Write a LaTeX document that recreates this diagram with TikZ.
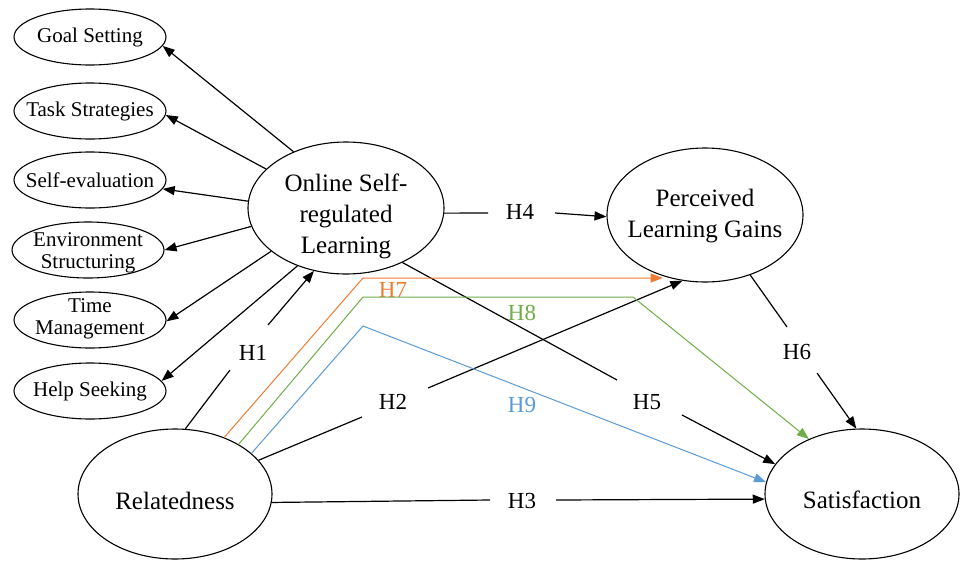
\documentclass[tikz,border=0pt]{standalone}
\usepackage{fontspec}
\setmainfont{Liberation Serif}
\usetikzlibrary{shapes.geometric,arrows.meta}
\definecolor{hseven}{HTML}{ED7D31}
\definecolor{height}{HTML}{70AD47}
\definecolor{hnine}{HTML}{5B9BD5}
\begin{document}
\begin{tikzpicture}[x=1pt,y=-1pt,
  bigell/.style={ellipse,draw,line width=1.1pt,inner sep=0pt},
  bigtxt/.style={align=center,inner sep=0pt,font=\fontsize{25}{31}\selectfont},
  smallell/.style={ellipse,draw,line width=1.1pt,inner sep=0pt,
    minimum width=152pt,minimum height=56pt},
  smalltxt/.style={align=center,inner sep=0pt,font=\fontsize{21}{22}\selectfont},
  hlab/.style={font=\fontsize{23}{27}\selectfont,inner sep=0pt},
  conn/.style={line width=1.2pt},
  arr/.style={conn,-{Triangle[length=12pt,width=9pt]}},
  carr/.style={line width=1pt,-{Triangle[length=12pt,width=9pt]}},
]
\useasboundingbox (0,0) rectangle (961,560);
\fill[white] (0,0) rectangle (961,560);

% small ellipses
\node[smallell,label={[smalltxt]center:Goal Setting}] (gs) at (90,37) {};
\node[smallell,label={[smalltxt]center:Task Strategies}] (ts) at (90,111) {};
\node[smallell,label={[smalltxt]center:Self-evaluation}] (se) at (90,180) {};
\node[smallell,label={[smalltxt,yshift=-3pt]center:Environment\\Structuring}] (es) at (88,250) {};
\node[smallell,label={[smalltxt,yshift=1pt]center:Time\\Management}] (tm) at (90,320) {};
\node[smallell,label={[smalltxt]center:Help Seeking}] (hs) at (90,391) {};

% big ellipses
\node[bigell,minimum width=196pt,minimum height=132pt,
  label={[bigtxt,yshift=-8pt]center:Online Self-\\regulated\\Learning}] (osrl) at (346,208) {};
\node[bigell,minimum width=196pt,minimum height=134pt,
  label={[bigtxt,yshift=-1pt]center:Perceived\\Learning Gains}] (plg) at (705,215) {};
\node[bigell,minimum width=194pt,minimum height=130pt,
  label={[bigtxt,yshift=-7pt]center:Relatedness}] (rel) at (175,494) {};
\node[bigell,minimum width=194pt,minimum height=130pt,
  label={[bigtxt,yshift=-6pt]center:Satisfaction}] (sat) at (862,494) {};

% labels
\node[hlab] (h1) at (253,353) {H1};
\node[hlab] (h2) at (393,402) {H2};
\node[hlab] (h3) at (522,501) {H3};
\node[hlab] (h4) at (520,212) {H4};
\node[hlab] (h5) at (647,402) {H5};
\node[hlab] (h6) at (797,352) {H6};
\node[hlab,text=hseven] (h7) at (393,290) {H7};
\node[hlab,text=height] (h8) at (522,313) {H8};
\node[hlab,text=hnine] (h9) at (522,405) {H9};

% break points
\coordinate (h1a) at (230,370);
\coordinate (h1b) at (268,325);
\coordinate (h2a) at (362,417);
\coordinate (h2b) at (428,388);
\coordinate (h3a) at (490,500);
\coordinate (h3b) at (556,500);
\coordinate (h4a) at (488,213);
\coordinate (h4b) at (555,213);
\coordinate (h5a) at (617,380);
\coordinate (h5b) at (682,415);
\coordinate (h6a) at (787,327);
\coordinate (h6b) at (817,373);
\coordinate (o1) at (363,278);
\coordinate (g1) at (363,297);
\coordinate (g2) at (633,297);
\coordinate (b1) at (363,326);

% OSRL -> indicators
\draw[arr] (osrl.133) -- (gs.-7);
\draw[arr] (osrl.154.5) -- (ts.-3);
\draw[arr] (osrl.176) -- (se.-7);
\draw[arr] (osrl.191.4) -- (es.0);
\draw[arr] (osrl.210.1) -- (tm.-1.5);
\draw[arr] (osrl.230.4) -- (hs.8);

% hypotheses
\draw[conn] (rel.81.6) -- (h1a);
\draw[arr] (h1b) -- (osrl.243.1);
\draw[conn] (rel.22.2) -- (h2a);
\draw[arr] (h2b) -- (plg.251.3);
\draw[conn] (rel.-5) -- (h3a);
\draw[arr] (h3b) -- (sat.183.5);
\draw[conn] (osrl.-3) -- (h4a);
\draw[arr] (h4b) -- (plg.181);
\draw[conn] (osrl.-44) -- (h5a);
\draw[arr] (h5b) -- (sat.161.4);
\draw[conn] (plg.-53.1) -- (h6a);
\draw[arr] (h6b) -- (sat.95.8);

% coloured paths
\draw[carr,hseven,shorten >=6pt] (rel.49.7) -- (o1) -- (o1 -| plg.240);
\draw[carr,height] (rel.38.9) -- (g1) -- (g2) -- (sat.134.5);
\draw[carr,hnine] (rel.28.1) -- (b1) -- (sat.173.5);
\end{tikzpicture}
\end{document}
